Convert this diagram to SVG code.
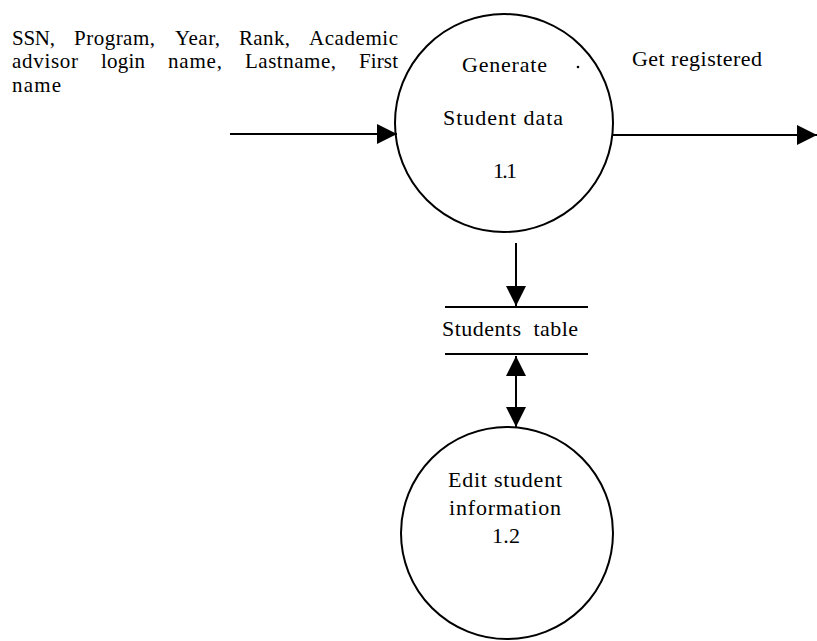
<svg xmlns="http://www.w3.org/2000/svg" width="817" height="641" viewBox="0 0 817 641">
  <style>
    .t { font-family: "Liberation Serif", "Times New Roman", serif; fill: #000; }
    .lbl { font-size: 21px; }
    .nd { font-size: 22px; }
    .shape { fill: none; stroke: #000; stroke-width: 2; }
    .flow { fill: none; stroke: #000; stroke-width: 2; }
  </style>
  <defs>
    <marker id="arrow" viewBox="0 0 20 20" refX="20" refY="10" markerWidth="20" markerHeight="20" markerUnits="userSpaceOnUse" orient="auto-start-reverse">
      <path d="M0,0 L20,10 L0,20 Z" fill="#000"/>
    </marker>
  </defs>
  <rect width="817" height="641" fill="#fff"/>

  <!-- input data items (justified block) -->
  <g id="input-label" class="t lbl">
    <text x="12" y="45" textLength="43" lengthAdjust="spacing">SSN,</text>
    <text x="74" y="45" textLength="81" lengthAdjust="spacing">Program,</text>
    <text x="175" y="45" textLength="45" lengthAdjust="spacing">Year,</text>
    <text x="239" y="45" textLength="51" lengthAdjust="spacing">Rank,</text>
    <text x="309" y="45" textLength="89" lengthAdjust="spacing">Academic</text>
    <text x="12" y="68" textLength="66" lengthAdjust="spacing">advisor</text>
    <text x="101" y="68" textLength="44" lengthAdjust="spacing">login</text>
    <text x="168" y="68" textLength="54" lengthAdjust="spacing">name,</text>
    <text x="245" y="68" textLength="91" lengthAdjust="spacing">Lastname,</text>
    <text x="359" y="68" textLength="39" lengthAdjust="spacing">First</text>
    <text x="12" y="92" textLength="49" lengthAdjust="spacing">name</text>
  </g>

  <!-- process 1.1 -->
  <g id="p1-1">
    <circle class="shape" cx="504" cy="123" r="109"/>
    <g class="t nd">
      <text x="462" y="72" textLength="85" lengthAdjust="spacing">Generate</text>
      <text x="443" y="125" textLength="120" lengthAdjust="spacing">Student data</text>
      <text x="493" y="178" textLength="24" lengthAdjust="spacing">1.1</text>
    </g>
    <circle cx="578" cy="67" r="1.3" fill="#000"/>
  </g>

  <!-- data store -->
  <g id="students-table">
    <line class="shape" x1="445" y1="307" x2="588" y2="307"/>
    <line class="shape" x1="445" y1="354" x2="588" y2="354"/>
    <text class="t nd" x="442" y="336" textLength="136" lengthAdjust="spacing" word-spacing="6">Students table</text>
  </g>

  <!-- process 1.2 -->
  <g id="p1-2">
    <circle class="shape" cx="507" cy="533" r="106"/>
    <g class="t nd">
      <text x="448" y="487" textLength="114" lengthAdjust="spacing">Edit student</text>
      <text x="449" y="515" textLength="112" lengthAdjust="spacing">information</text>
      <text x="492" y="543" textLength="28" lengthAdjust="spacing">1.2</text>
    </g>
  </g>

  <!-- output label -->
  <g id="output-label">
    <text class="t nd" x="632" y="66" textLength="130" lengthAdjust="spacing">Get registered</text>
  </g>

  <!-- data flows -->
  <g id="connectors">
    <line class="flow" x1="230" y1="134" x2="397" y2="134" marker-end="url(#arrow)"/>
    <line class="flow" x1="613" y1="135" x2="817" y2="135" marker-end="url(#arrow)"/>
    <line class="flow" x1="516" y1="243" x2="516" y2="306" marker-end="url(#arrow)"/>
    <line class="flow" x1="516" y1="356" x2="516" y2="427" marker-start="url(#arrow)" marker-end="url(#arrow)"/>
  </g>
</svg>
